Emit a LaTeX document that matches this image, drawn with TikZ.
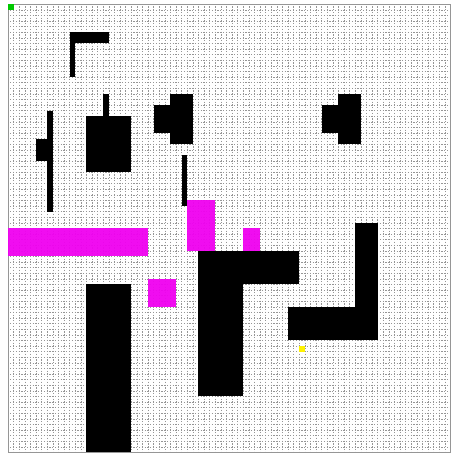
\documentclass[tikz,border=0pt]{standalone}
\definecolor{startgreen}{RGB}{0,200,0}
\definecolor{zonemag}{RGB}{240,0,240}
\definecolor{gridgray}{RGB}{150,150,150}
\tikzset{
  wall/.style={fill=black},
  zone/.style={fill=zonemag, fill opacity=0.95},
  gridln/.style={draw=gridgray, line width=0.4pt, dash pattern=on 1.2pt off 1.6pt, dash phase=0.6pt},
  startcell/.style={fill=startgreen},
  goalcell/.style={fill=yellow}
}
\begin{document}
\begin{tikzpicture}[x=1pt,y=1pt]
\useasboundingbox (0,0) rectangle (451,-454);
\fill[white] (0,0) rectangle (451,-454);
\begin{scope}[x=5.6pt,y=-5.6pt,shift={(8pt,-4.3pt)}]
  % grid
  \foreach \i in {0,...,79} \draw[gridln] (\i,0) -- (\i,80);
  \foreach \j in {0,...,80} \draw[gridln] (0,\j) -- (79,\j);
  \draw[gridgray, line width=0.6pt] (0,0) rectangle (79,80);
  % magenta zones
  \fill[zone] (0,40) rectangle (25,45);
  \fill[zone] (32,35) rectangle (37,44);
  \fill[zone] (42,40) rectangle (45,44);
  \fill[zone] (25,49) rectangle (30,54);
  % start and goal
  \fill[startcell] (0,0) rectangle (1,1);
  \fill[goalcell] (52,61) rectangle (53,62);
  % walls
  \fill[wall] (11,5) rectangle (18,7);
  \fill[wall] (11,5) rectangle (12,13);
  \fill[wall] (17,16) rectangle (18,20);
  \fill[wall] (14,20) rectangle (22,30);
  \fill[wall] (7,19) rectangle (8,37);
  \fill[wall] (5,24) rectangle (8,28);
  \fill[wall] (29,16) rectangle (33,25);
  \fill[wall] (26,18) rectangle (29,23);
  \fill[wall] (31,27) rectangle (32,36);
  \fill[wall] (59,16) rectangle (63,25);
  \fill[wall] (56,18) rectangle (59,23);
  \fill[wall] (34,44) rectangle (52,50);
  \fill[wall] (34,44) rectangle (42,70);
  \fill[wall] (62,39) rectangle (66,60);
  \fill[wall] (50,54) rectangle (66,60);
  \fill[wall] (14,50) rectangle (22,80);
\end{scope}
\end{tikzpicture}
\end{document}
